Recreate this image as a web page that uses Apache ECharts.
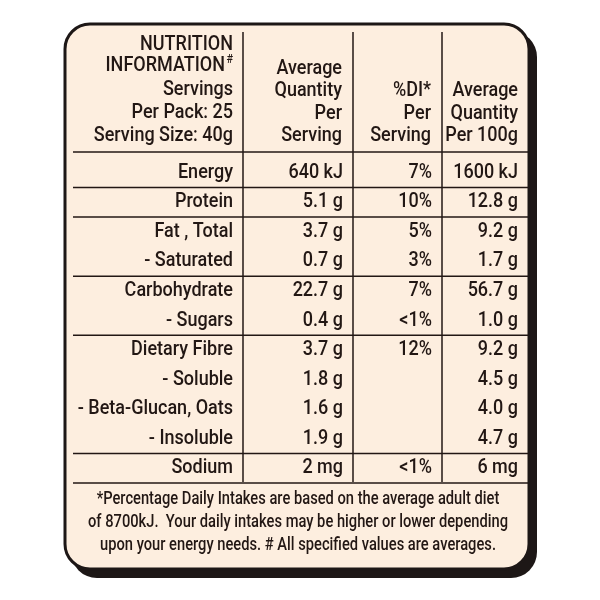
<!DOCTYPE html>
<html>
<head>
<meta charset="utf-8">
<script src="https://cdn.jsdelivr.net/npm/echarts@6/dist/echarts.min.js"></script>
<style>
  html, body { margin: 0; padding: 0; background: #fff; }
  #main { width: 600px; height: 600px; }
</style>
</head>
<body>
<div id="main"></div>
<script>
// rows of the panel
var rowLabels = ['Energy', 'Protein', 'Fat , Total', '- Saturated', 'Carbohydrate', '- Sugars',
    'Dietary Fibre', '- Soluble', '- Beta-Glucan, Oats', '- Insoluble', 'Sodium'];
var perServing = ['640 kJ', '5.1 g', '3.7 g', '0.7 g', '22.7 g', '0.4 g', '3.7 g', '1.8 g', '1.6 g', '1.9 g', '2 mg'];
var diPerServing = ['7%', '10%', '5%', '3%', '7%', '<1%', '12%', '', '', '', '<1%'];
var per100g = ['1600 kJ', '12.8 g', '9.2 g', '1.7 g', '56.7 g', '1.0 g', '9.2 g', '4.5 g', '4.0 g', '4.7 g', '6 mg'];
// a rule is drawn under these rows
var ruleAfter = [true, true, false, true, false, true, false, false, false, true, true];

// header text, one array per column
var head1 = ['NUTRITION', 'INFORMATION', 'Servings', 'Per Pack: 25', 'Serving Size: 40g'];
var head2 = ['Average', 'Quantity', 'Per', 'Serving'];
var head3 = ['%DI*', 'Per', 'Serving'];
var head4 = ['Average', 'Quantity', 'Per 100g'];
var footNote = [
    '*Percentage Daily Intakes are based on the average adult diet',
    'of 8700kJ.  Your daily intakes may be higher or lower depending',
    'upon your energy needs. # All specified values are averages.'
];

var FONT = 'Roboto, "Noto Sans", sans-serif';
var INK = '#221714';
var SQUEEZE = 0.9;   // label face is condensed
var colEdges = [0, 170, 280, 369, 455]; // table column borders, in x-axis units
var pad = 10;

var myChart = echarts.init(document.getElementById('main'));

// text element squeezed horizontally about its anchor
function txt(s, x, y, align, size, sx) {
    return {
        type: 'text', z: 5, x: x, y: y, scaleX: sx || SQUEEZE,
        style: {
            text: s, x: 0, y: 0, align: align, verticalAlign: 'middle',
            fill: INK, fontFamily: FONT, fontSize: size, fontWeight: 500
        }
    };
}

// header lines sit on a fixed baseline grid (bottom line = 136)
function headText(lines, right, step) {
    var n = lines.length;
    return lines.map(function (s, i) {
        return txt(s, right, 136 - (n - 1 - i) * step, 'right', 20);
    });
}

var graphic = [
    // shadow + box
    { type: 'rect', z: 0, shape: { x: 71, y: 31, width: 466, height: 547, r: 26 }, style: { fill: '#1d1716' } },
    { type: 'rect', z: 1, shape: { x: 65, y: 24, width: 464, height: 545, r: 25 },
      style: { fill: '#fdeedf', stroke: '#1d1716', lineWidth: 3 } },
    // column rules
    { type: 'line', z: 2, shape: { x1: 243, y1: 32, x2: 243, y2: 482 }, style: { stroke: INK, lineWidth: 1.5 } },
    { type: 'line', z: 2, shape: { x1: 353, y1: 32, x2: 353, y2: 482 }, style: { stroke: INK, lineWidth: 1.5 } },
    { type: 'line', z: 2, shape: { x1: 442, y1: 32, x2: 442, y2: 482 }, style: { stroke: INK, lineWidth: 1.5 } },
    { type: 'line', z: 2, shape: { x1: 73, y1: 152, x2: 528, y2: 152 }, style: { stroke: INK, lineWidth: 1.5 } }
];

// first header column, with a superscript '#'
var h1y = [45, 66, 90, 113, 136];
head1.forEach(function (s, i) {
    graphic.push(txt(s, i === 1 ? 225 : 233, h1y[i], 'right', 20));
});
graphic.push(txt('#', 233, 60, 'right', 12));
graphic = graphic.concat(headText(head2, 342, 22.5), headText(head3, 431, 22.5), headText(head4, 518, 22.5));

footNote.forEach(function (line, i) {
    graphic.push(txt(line, 298, 500 + i * 23, 'center', 17.5, 0.84));
});

var cols = [rowLabels, perServing, diPerServing, per100g];

var option = {
    animation: false,
    graphic: graphic,
    grid: { left: 73, right: 72, top: 158, bottom: 117 },
    xAxis: { type: 'value', min: 0, max: colEdges[4], show: false },
    yAxis: { type: 'category', data: rowLabels, inverse: true, show: false },
    series: [{
        type: 'custom',
        z: 10,
        data: rowLabels.map(function (l, i) { return [0, i]; }),
        encode: { x: 0, y: 1 },
        renderItem: function (params, api) {
            var idx = api.value(1);
            var c = api.coord([0, idx]);
            var band = api.size([0, 1])[1];
            var kids = [];
            for (var k = 0; k < cols.length; k++) {
                var right = api.coord([colEdges[k + 1], idx])[0] - pad;
                kids.push(txt(cols[k][idx], right, c[1], 'right', 20));
            }
            if (ruleAfter[idx]) {
                var yl = c[1] + band / 2;
                kids.push({
                    type: 'line',
                    shape: { x1: params.coordSys.x, y1: yl, x2: params.coordSys.x + params.coordSys.width, y2: yl },
                    style: { stroke: INK, lineWidth: 1.5 }
                });
            }
            return { type: 'group', children: kids };
        }
    }]
};

myChart.setOption(option);
</script>
</body>
</html>
